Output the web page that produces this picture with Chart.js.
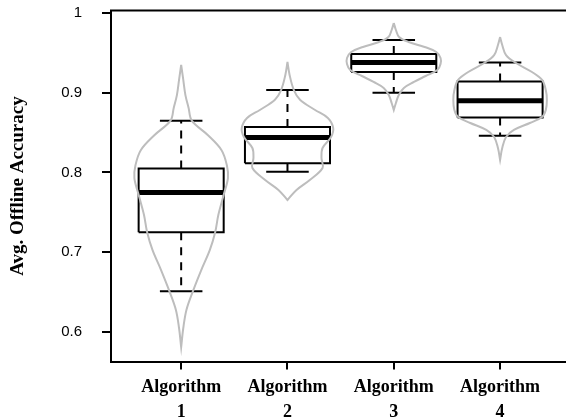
<!DOCTYPE html>
<html>
<head>
<meta charset="utf-8">
<script src="https://cdn.jsdelivr.net/npm/chart.js@4"></script>
<style>
  html, body { margin: 0; padding: 0; background: #fff; overflow: hidden; }
  #wrap { width: 566px; height: 420px; }
</style>
</head>
<body>
<div id="wrap"><canvas id="accChart"></canvas></div>
<script>
// categories and box stats
const algorithms = ['1', '2', '3', '4'];
const yTicks = [0.6, 0.7, 0.8, 0.9, 1];
const upperWhisker = [0.865, 0.9035, 0.966, 0.938];
const q3 = [0.805, 0.857, 0.9486, 0.914];
const median = [0.775, 0.844, 0.938, 0.890];
const q1 = [0.725, 0.8115, 0.926, 0.869];
const lowerWhisker = [0.651, 0.801, 0.900, 0.846];

// violin outlines: accuracy level and half width (in category units)
const violin1Levels = [0.935, 0.916, 0.897, 0.881, 0.865, 0.847, 0.828, 0.809, 0.793, 0.772, 0.747, 0.725, 0.703, 0.678, 0.651, 0.628, 0.605, 0.581];
const violin1Width  = [0, 0.02, 0.04, 0.07, 0.10, 0.25, 0.38, 0.43, 0.44, 0.40, 0.35, 0.32, 0.27, 0.19, 0.11, 0.05, 0.02, 0];
const violin2Levels = [0.9386, 0.9223, 0.9034, 0.8909, 0.8784, 0.8683, 0.8558, 0.8445, 0.8307, 0.8182, 0.8056, 0.7906, 0.7781, 0.7655];
const violin2Width  = [0, 0.02, 0.06, 0.12, 0.26, 0.38, 0.43, 0.41, 0.33, 0.32, 0.33, 0.21, 0.085, 0];
const violin3Levels = [0.9875, 0.9787, 0.9699, 0.9636, 0.9574, 0.9511, 0.9436, 0.9361, 0.9285, 0.921, 0.9135, 0.906, 0.8972, 0.8871, 0.8784];
const violin3Width  = [0, 0.02, 0.05, 0.14, 0.29, 0.40, 0.44, 0.44, 0.41, 0.30, 0.19, 0.095, 0.047, 0.02, 0];
const violin4Levels = [0.9699, 0.9599, 0.9473, 0.9373, 0.926, 0.916, 0.9034, 0.8909, 0.8784, 0.8696, 0.8621, 0.8533, 0.8445, 0.8307, 0.8157];
const violin4Width  = [0, 0.02, 0.056, 0.15, 0.30, 0.395, 0.43, 0.44, 0.43, 0.395, 0.28, 0.13, 0.056, 0.02, 0];

const violinLevels = [violin1Levels, violin2Levels, violin3Levels, violin4Levels];
const violinWidth = [violin1Width, violin2Width, violin3Width, violin4Width];

const BOX_HALF = 0.4;
const CAP_HALF = 0.2;

const datasets = [];

// violins first so the boxes sit on top
violinLevels.forEach((levels, i) => {
  const c = i + 1;
  const left = levels.map((v, k) => ({ x: c - violinWidth[i][k], y: v }));
  const right = levels.map((v, k) => ({ x: c + violinWidth[i][k], y: v })).reverse();
  datasets.push({
    data: left.concat(right),
    showLine: true,
    borderColor: '#bdbdbd',
    borderWidth: 2,
    pointRadius: 0,
    tension: 0.35
  });
});

algorithms.forEach((a, i) => {
  const c = i + 1;
  const line = (pts, extra) => Object.assign({
    data: pts, showLine: true, borderColor: '#000', borderWidth: 2,
    pointRadius: 0, tension: 0
  }, extra || {});
  // whiskers (dashed)
  datasets.push(line([{ x: c, y: q3[i] }, { x: c, y: upperWhisker[i] }], { borderDash: [8, 7] }));
  datasets.push(line([{ x: c, y: q1[i] }, { x: c, y: lowerWhisker[i] }], { borderDash: [8, 7] }));
  // caps
  datasets.push(line([{ x: c - CAP_HALF, y: upperWhisker[i] }, { x: c + CAP_HALF, y: upperWhisker[i] }]));
  datasets.push(line([{ x: c - CAP_HALF, y: lowerWhisker[i] }, { x: c + CAP_HALF, y: lowerWhisker[i] }]));
  // box
  datasets.push(line([
    { x: c - BOX_HALF, y: q1[i] }, { x: c + BOX_HALF, y: q1[i] },
    { x: c + BOX_HALF, y: q3[i] }, { x: c - BOX_HALF, y: q3[i] },
    { x: c - BOX_HALF, y: q1[i] }
  ], { borderJoinStyle: 'miter' }));
  // median
  datasets.push(line([{ x: c - BOX_HALF, y: median[i] }, { x: c + BOX_HALF, y: median[i] }], { borderWidth: 5, borderCapStyle: 'butt' }));
});

// top edge of the frame
const frameTop = {
  id: 'frameTop',
  afterDraw(chart) {
    const { ctx, chartArea } = chart;
    ctx.save();
    ctx.strokeStyle = '#000';
    ctx.lineWidth = 2;
    ctx.beginPath();
    ctx.moveTo(chartArea.left - 1, chartArea.top);
    ctx.lineTo(chartArea.right, chartArea.top);
    ctx.stroke();
    ctx.restore();
  }
};

const ctx = document.getElementById('accChart').getContext('2d');
new Chart(ctx, {
  type: 'scatter',
  data: { datasets },
  plugins: [frameTop],
  options: {
    responsive: true,
    maintainAspectRatio: false,
    animation: false,
    layout: { padding: { top: 10.6, right: 0, bottom: 0, left: 0 } },
    plugins: { legend: { display: false }, tooltip: { enabled: false } },
    scales: {
      x: {
        type: 'linear',
        min: 0.34,
        max: 4.62,
        afterBuildTicks: s => { s.ticks = algorithms.map((a, i) => ({ value: i + 1 })); },
        afterFit: s => { s.height = 58.5; },
        border: { display: true, color: '#000', width: 2 },
        grid: { drawOnChartArea: false, drawTicks: true, tickLength: 8, color: '#000', lineWidth: 2 },
        ticks: {
          autoSkip: false,
          maxRotation: 0,
          padding: 5,
          color: '#000',
          font: { family: 'Liberation Serif', size: 18, weight: 'bold', lineHeight: 1.4 },
          callback: (v) => ['Algorithm', algorithms[Math.round(v) - 1]]
        }
      },
      y: {
        min: 0.563,
        max: 1.003,
        afterBuildTicks: s => { s.ticks = yTicks.map(v => ({ value: v })); },
        afterFit: s => { s.width = 111; s.paddingTop = 9; s.paddingBottom = 9; },
        border: { display: true, color: '#000', width: 2 },
        grid: { drawOnChartArea: false, drawTicks: true, tickLength: 9, color: '#000', lineWidth: 2 },
        ticks: {
          padding: 20,
          color: '#000',
          font: { family: 'Liberation Sans', size: 15 },
          callback: v => String(v)
        },
        title: {
          display: true,
          text: 'Avg. Offline Accuracy',
          color: '#000',
          padding: { top: 7 },
          font: { family: 'Liberation Serif', size: 19, weight: 'bold' }
        }
      }
    }
  }
});
</script>
</body>
</html>
